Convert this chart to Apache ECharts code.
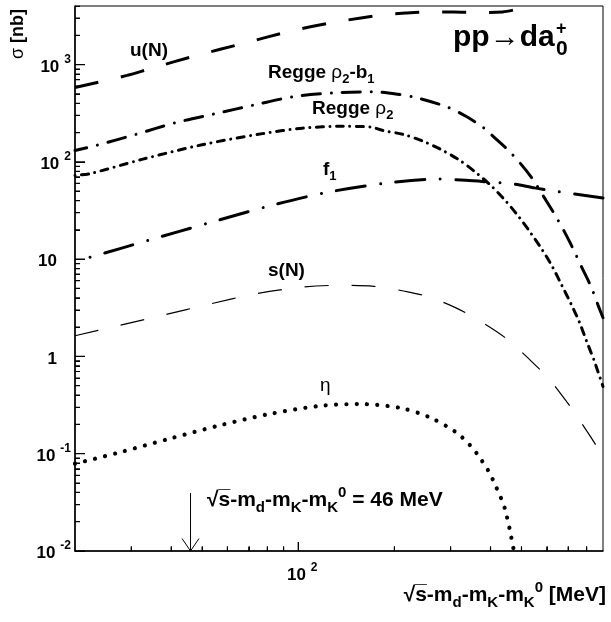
<!DOCTYPE html>
<html>
<head>
<meta charset="utf-8">
<script src="https://cdn.jsdelivr.net/npm/echarts@6/dist/echarts.min.js"></script>
<style>
  html, body { margin: 0; padding: 0; background: #fff; }
  #chart { width: 611px; height: 622px; }
</style>
</head>
<body>
<div id="chart"></div>
<script>
// pp -> d a0+ : cross section (nb) versus excess energy Q = sqrt(s) - m_d - m_K - m_K0 (MeV)

// u-channel nucleon exchange
const uN_q = [20, 29.1, 34.4, 48.2, 67.4, 94.6, 129.3, 181.2, 217, 256.8, 307.6, 364, 436, 509];
const uN_sigma = [580, 774, 908, 1244, 1651, 2208, 2715, 3226, 3383, 3470, 3470, 3430, 3480, 3850];

// Regge rho2 - b1
const reggeRhoB_q = [20, 23.4, 31.1, 41.3, 55.1, 73.5, 98.1, 132.5, 170, 205, 237, 293, 335, 378, 401, 447, 495, 542, 586, 633, 680, 727, 773, 825, 869, 900];
const reggeRhoB_sigma = [131, 148, 192, 253, 313, 387, 471, 514, 525, 495, 453, 366, 294, 228, 192, 139, 97.2, 66.5, 44.2, 29.4, 19.4, 12.6, 8.18, 5.25, 3.35, 2.5];

// Regge rho2
const reggeRho_q = [20, 22.3, 32.4, 50, 77.2, 103, 137.4, 168.5, 183.4, 214.3, 246.6, 280.6, 320.4, 360.4, 402.8, 446.6, 489.5, 534.9, 580.4, 625.6, 668.7, 714, 760, 801, 845, 900];
const reggeRho_sigma = [72.6, 75.7, 106, 150, 195, 222, 232, 228, 211, 190.5, 162.4, 133.4, 103.6, 77.4, 56.4, 39.5, 27.5, 18.5, 12.5, 8.3, 5.38, 3.49, 2.23, 1.41, 0.90, 0.49];

// f1 exchange
const f1_q = [20, 22.4, 34.6, 52.8, 80.9, 124.7, 193.8, 275, 334.6, 410, 466.6, 550, 640, 719, 900];
const f1_sigma = [9.45, 10.5, 15.9, 23.7, 35.1, 49, 61.1, 66.5, 64.6, 61.5, 59.7, 54, 49.8, 47.1, 42.5];

// s-channel nucleon
const sN_q = [20, 26.8, 37.5, 52.4, 73.5, 103.7, 134, 172.6, 222.3, 263, 332, 443.5, 575, 610, 714, 749, 824.5, 900];
const sN_sigma = [1.63, 2.04, 2.64, 3.43, 4.40, 5.17, 5.38, 5.25, 4.59, 3.98, 2.84, 1.57, 0.72, 0.59, 0.30, 0.238, 0.148, 0.094];

// eta exchange
const eta_q = [20, 27.5, 39.3, 56.2, 80.3, 115.8, 155.2, 208.2, 256.8, 311.3, 346.8, 364, 394.2, 407.5, 431.9, 443.5, 458.8, 472, 478];
const eta_sigma = [0.079, 0.103, 0.142, 0.194, 0.254, 0.309, 0.324, 0.296, 0.238, 0.167, 0.12, 0.0986, 0.0664, 0.0533, 0.0346, 0.0273, 0.017, 0.0106, 0.009];

// marked excess energy
const markQ = [46];
const markTop = [0.0394];

// axis ranges and ticks
const Q_MIN = 20, Q_MAX = 900;
const SIG_MIN = 0.01, SIG_MAX = 4000;
const qMajorTicks = [100];
const qMinorTicks = [30, 40, 50, 60, 70, 80, 90, 200, 300, 400, 500, 600, 700, 800];
const sigDecades = [0.01, 0.1, 1, 10, 100, 1000];
const sigMantissas = [2, 3, 4, 5, 6, 7, 8, 9];

const FONT = "'Liberation Sans', Arial, Helvetica, sans-serif";
const GRID = { left: 75, top: 6, right: 8, bottom: 71 };
const WIDTH = 611, HEIGHT = 622;

function zip(xs, ys) { return xs.map((x, i) => [x, ys[i]]); }

const sigMinorTicks = [];
sigDecades.forEach(d => sigMantissas.forEach(m => {
  const v = m * d;
  if (v <= SIG_MAX * 1.0001) sigMinorTicks.push(v);
}));

function decadeExp(v) {
  const k = Math.log10(v);
  const r = Math.round(k);
  return Math.abs(k - r) < 1e-6 ? r : null;
}

// decades per pixel on each log axis, so tick marks get a fixed on-screen length
const qDecPerPx = Math.log10(Q_MAX / Q_MIN) / (WIDTH - GRID.left - GRID.right);
const sigDecPerPx = Math.log10(SIG_MAX / SIG_MIN) / (HEIGHT - GRID.top - GRID.bottom);

// inward tick marks as one broken polyline: point pairs separated by gaps
const tickPath = [];
qMajorTicks.concat(qMinorTicks).forEach(v => {
  const len = decadeExp(v) !== null ? 9 : 4.5;
  tickPath.push([v, SIG_MIN], [v, SIG_MIN * Math.pow(10, len * sigDecPerPx)], ['-', '-']);
});
sigDecades.concat(sigMinorTicks).forEach(v => {
  const len = decadeExp(v) !== null ? 10 : 5;
  tickPath.push([Q_MIN, v], [Q_MIN * Math.pow(10, len * qDecPerPx), v], ['-', '-']);
});

function rich(size, lh) {
  const sub = Math.round(size * 0.7);
  return {
    m:   { fontFamily: FONT, fontWeight: 'bold', fontSize: size, lineHeight: lh, verticalAlign: 'middle', fill: '#000', color: '#000' },
    g:   { fontFamily: FONT, fontWeight: 'normal', fontSize: size, lineHeight: lh, verticalAlign: 'middle', fill: '#000', color: '#000' },
    sub: { fontFamily: FONT, fontWeight: 'bold', fontSize: sub, verticalAlign: 'bottom', fill: '#000', color: '#000' },
    sup: { fontFamily: FONT, fontWeight: 'bold', fontSize: sub, verticalAlign: 'top', fill: '#000', color: '#000' }
  };
}

function label(text, x, y, size, lh, align) {
  return {
    type: 'text', x: x, y: y, silent: true,
    style: { text: text, rich: rich(size, lh), align: align || 'left', verticalAlign: 'middle',
             textAlign: align || 'left', textVerticalAlign: 'middle' }
  };
}

const tickLabelRich = {
  b:   { fontFamily: FONT, fontWeight: 'bold', fontSize: 17, lineHeight: 22, verticalAlign: 'bottom', color: '#000' },
  s:   { fontFamily: FONT, fontWeight: 'bold', fontSize: 12, verticalAlign: 'top', padding: [0, 0, 0, 5], color: '#000' },
  pad: { width: 14 },
  lpad: { width: 8 }
};

function curve(name, xs, ys, style) {
  return {
    name: name, type: 'line', data: zip(xs, ys), showSymbol: false, symbol: 'none',
    smooth: 0.3, clip: true, silent: true, z: 3,
    lineStyle: Object.assign({ color: '#000' }, style)
  };
}

// secondary axis sharing the grid and range, carrying only the short subdivision ticks
function minorAxis(min, max, position, values, len) {
  return {
    type: 'log', logBase: 10, min: min, max: max, gridIndex: 0, position: position, offset: 0,
    axisLine: { show: false }, axisLabel: { show: false }, splitLine: { show: false },
    axisTick: { show: true, inside: true, length: len, customValues: values,
                lineStyle: { color: '#000', width: 1 } }
  };
}

const chart = echarts.init(document.getElementById('chart'));

chart.setOption({
  animation: false,
  backgroundColor: '#fff',
  grid: Object.assign({ show: true, borderColor: '#000', borderWidth: 1 }, GRID),
  xAxis: [
    {
      type: 'log', logBase: 10, min: Q_MIN, max: Q_MAX, position: 'bottom',
      axisLine: { show: true, lineStyle: { color: '#000', width: 1.5 } },
      axisTick: { show: true, inside: true, length: 9, customValues: qMajorTicks, lineStyle: { color: '#000', width: 1 } },
      splitLine: { show: false }, minorTick: { show: false },
      axisLabel: {
        margin: 11, rich: tickLabelRich,
        formatter: v => { const k = decadeExp(v); return k === null ? '' : '{lpad|}{b|10}{s|' + k + '}'; }
      }
    },
    minorAxis(Q_MIN, Q_MAX, 'bottom', qMinorTicks, 4.5)
  ],
  yAxis: [
    {
      type: 'log', logBase: 10, min: SIG_MIN, max: SIG_MAX, position: 'left',
      axisLine: { show: true, lineStyle: { color: '#000', width: 1.5 } },
      axisTick: { show: true, inside: true, length: 10, customValues: sigDecades, lineStyle: { color: '#000', width: 1 } },
      splitLine: { show: false }, minorTick: { show: false },
      axisLabel: {
        margin: 4, rich: tickLabelRich,
        formatter: v => {
          const k = decadeExp(v);
          if (k === null) return '';
          if (k === 0) return '{b|1}{pad|}';
          if (k === 1) return '{b|10}{pad|}';
          return '{b|10}{s|' + k + '}';
        }
      }
    },
    minorAxis(SIG_MIN, SIG_MAX, 'left', sigMinorTicks, 5)
  ],
  series: [
    curve('u(N)', uN_q, uN_sigma, { width: 3, type: [24, 23], dashOffset: 0, cap: 'butt' }),
    curve('Regge rho2-b1', reggeRhoB_q, reggeRhoB_sigma, { width: 3, type: [18, 11, 0.01, 11], dashOffset: 6, cap: 'round' }),
    curve('Regge rho2', reggeRho_q, reggeRho_sigma, { width: 3, type: [7, 6.5, 0.01, 6.5], dashOffset: 13.5, cap: 'round' }),
    curve('f1', f1_q, f1_sigma, { width: 3, type: [29, 15.5, 0.01, 15.5], dashOffset: 29, cap: 'round' }),
    curve('s(N)', sN_q, sN_sigma, { width: 1.2, type: [24, 23], dashOffset: 0, cap: 'butt' }),
    curve('eta', eta_q, eta_sigma, { width: 4.2, type: [0.01, 10.3], dashOffset: 0, cap: 'round' }),
    {
      name: 'ticks', type: 'line', data: tickPath, showSymbol: false, silent: true,
      lineStyle: { color: '#000', width: 1.2 }
    },
    {
      // arrow pointing at the marked excess energy
      type: 'custom', silent: true, z: 6, clip: false,
      data: zip(markQ, markTop),
      encode: { x: 0, y: 1 },
      renderItem: (params, api) => {
        const top = api.coord([api.value(0), api.value(1)]);
        const tip = api.coord([api.value(0), SIG_MIN]);
        return {
          type: 'group',
          children: [
            { type: 'line', shape: { x1: top[0], y1: top[1], x2: tip[0], y2: tip[1] }, style: { stroke: '#000', lineWidth: 1 } },
            { type: 'polyline', shape: { points: [[tip[0] - 8.5, tip[1] - 12.5], [tip[0], tip[1]], [tip[0] + 8.5, tip[1] - 12.5]] },
              style: { stroke: '#000', lineWidth: 1, fill: null } }
          ]
        };
      }
    }
  ],
  graphic: [
    label('{m|u(N)}', 130, 51, 19, 26),
    label('{m|Regge }{g|ρ}{sub|2}{m|-b}{sub|1}', 268, 73, 19, 26),
    label('{m|Regge }{g|ρ}{sub|2}', 312, 109, 19, 26),
    label('{m|f}{sub|1}', 323, 170, 19, 26),
    label('{m|s(N)}', 268, 271, 19, 26),
    label('{g|η}', 320, 386, 19, 26),
    label('{m|pp→da}', 453, 38, 30, 36),
    label('{m|+}', 556, 29, 18, 20),
    label('{m|0}', 556, 49, 21, 22),
    label('{m|√s\u0305-m}{sub|d}{m|-m}{sub|K}{m|-m}{sub|K}{sup|0}{m| = 46 MeV}', 207, 500, 21, 30),
    label('{m|√s\u0305-m}{sub|d}{m|-m}{sub|K}{m|-m}{sub|K}{sup|0}{m| [MeV]}', 606, 595, 21, 30, 'right'),
    {
      type: 'text', x: 18, y: 34, rotation: Math.PI / 2, silent: true,
      style: { text: '{g|σ}{m| [nb]}', rich: rich(18, 24), align: 'center', verticalAlign: 'middle',
               textAlign: 'center', textVerticalAlign: 'middle' }
    }
  ]
});
</script>
</body>
</html>
